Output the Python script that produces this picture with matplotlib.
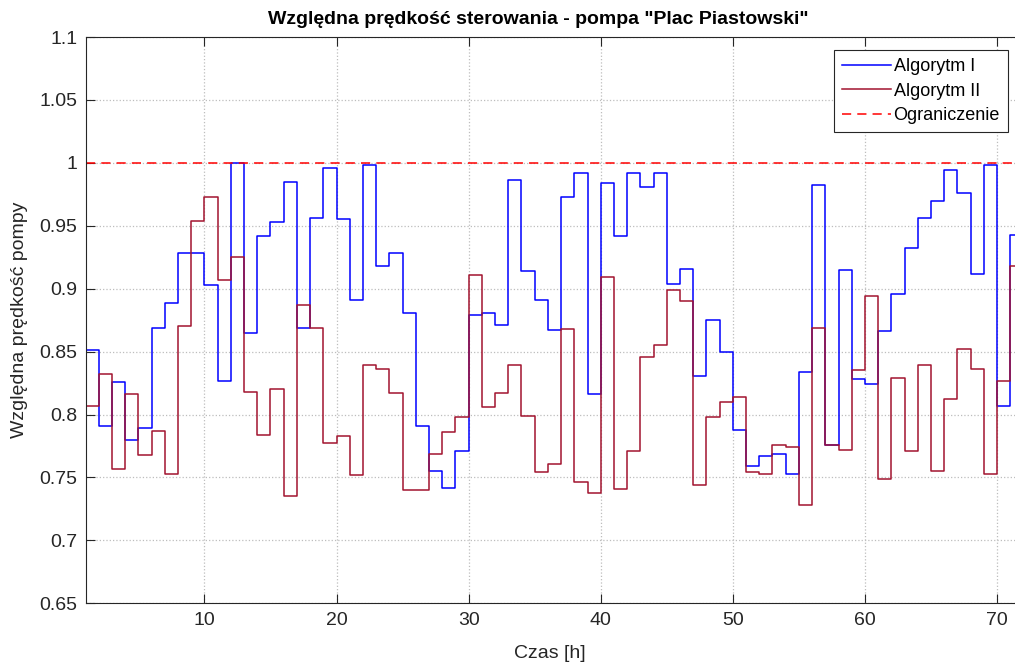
import numpy as np
import matplotlib.pyplot as plt

plt.rcParams['font.family'] = ['Liberation Sans', 'DejaVu Sans']

# Wartosci (godziny 1..71)
godziny = np.arange(1, 72)
algorytm_1 = [0.851, 0.791, 0.826, 0.780, 0.789, 0.869, 0.889, 0.928, 0.928, 0.903,
              0.827, 1.000, 0.865, 0.942, 0.953, 0.985, 0.869, 0.956, 0.996, 0.955,
              0.891, 0.998, 0.918, 0.928, 0.881, 0.791, 0.755, 0.742, 0.771, 0.879,
              0.881, 0.871, 0.986, 0.914, 0.891, 0.867, 0.973, 0.992, 0.816, 0.984,
              0.942, 0.992, 0.981, 0.992, 0.904, 0.916, 0.831, 0.875, 0.850, 0.788,
              0.759, 0.767, 0.769, 0.753, 0.834, 0.982, 0.776, 0.915, 0.828, 0.824,
              0.866, 0.896, 0.932, 0.956, 0.970, 0.994, 0.976, 0.912, 0.998, 0.807,
              0.943]
algorytm_2 = [0.807, 0.832, 0.757, 0.816, 0.768, 0.787, 0.753, 0.870, 0.954, 0.973,
              0.907, 0.925, 0.818, 0.784, 0.820, 0.735, 0.887, 0.869, 0.777, 0.783,
              0.752, 0.839, 0.836, 0.817, 0.740, 0.740, 0.769, 0.786, 0.798, 0.911,
              0.806, 0.817, 0.839, 0.799, 0.754, 0.761, 0.868, 0.746, 0.738, 0.909,
              0.741, 0.771, 0.846, 0.855, 0.899, 0.890, 0.744, 0.798, 0.810, 0.814,
              0.754, 0.753, 0.776, 0.774, 0.728, 0.869, 0.776, 0.772, 0.835, 0.894,
              0.749, 0.829, 0.771, 0.839, 0.755, 0.812, 0.852, 0.836, 0.753, 0.827,
              0.918]
ograniczenie = 1.0

y_ticks = [0.65, 0.7, 0.75, 0.8, 0.85, 0.9, 0.95, 1.0, 1.05, 1.1]
y_labels = ['0.65', '0.7', '0.75', '0.8', '0.85', '0.9', '0.95', '1', '1.05', '1.1']
x_ticks = [10, 20, 30, 40, 50, 60, 70]

txt = '#262626'
fig = plt.figure(figsize=(10.15, 6.64), dpi=100)
ax = fig.add_axes([85.5 / 1015, 1 - 603.3 / 664, 938 / 1015, 566.3 / 664])

# schodki: ostatnia wartosc przedluzona do konca osi
x_st = np.append(godziny, godziny[-1] + 1)
ax.step(x_st, algorytm_1 + [algorytm_1[-1]], where='post', color=(0, 0, 1), lw=1.1, label='Algorytm I')
ax.step(x_st, algorytm_2 + [algorytm_2[-1]], where='post', color=(0.635, 0.078, 0.184), lw=1.1, label='Algorytm II')
ax.axhline(ograniczenie, color=(1, 0, 0), lw=1.1, ls=(0, (6, 4)), label='Ograniczenie')

ax.set_xlim(1, 72)
ax.set_ylim(0.65, 1.1)
ax.set_xticks(x_ticks)
ax.set_yticks(y_ticks)
ax.set_yticklabels(y_labels)
ax.grid(True, color='#bdbdbd', ls=':', lw=0.9)
ax.tick_params(direction='in', length=6.5, width=0.8, top=True, right=True,
               labelsize=14, colors=txt, pad=6)
for s in ax.spines.values():
    s.set_color(txt)
    s.set_linewidth(0.8)

fig.text(538 / 1015, 1 - 19 / 664, 'Względna prędkość sterowania - pompa "Plac Piastowski"',
         ha='center', va='center', fontsize=14, fontweight='bold', color='black')
fig.text(550 / 1015, 1 - 653 / 664, 'Czas [h]', ha='center', va='center', fontsize=14, color=txt)
fig.text(20 / 1015, 1 - 320 / 664, 'Względna prędkość pompy', ha='center', va='center',
         rotation=90, fontsize=14, color=txt)

leg = ax.legend(loc='upper right', bbox_to_anchor=(1008 / 1015, 1 - 50 / 664),
                bbox_transform=fig.transFigure, borderaxespad=0, fancybox=False,
                fontsize=13, handlelength=2.7, handletextpad=0.15, labelspacing=0.42,
                borderpad=0.45, framealpha=1)
leg.get_frame().set_edgecolor(txt)
leg.get_frame().set_linewidth(0.8)

plt.savefig('out.png', dpi=100)
